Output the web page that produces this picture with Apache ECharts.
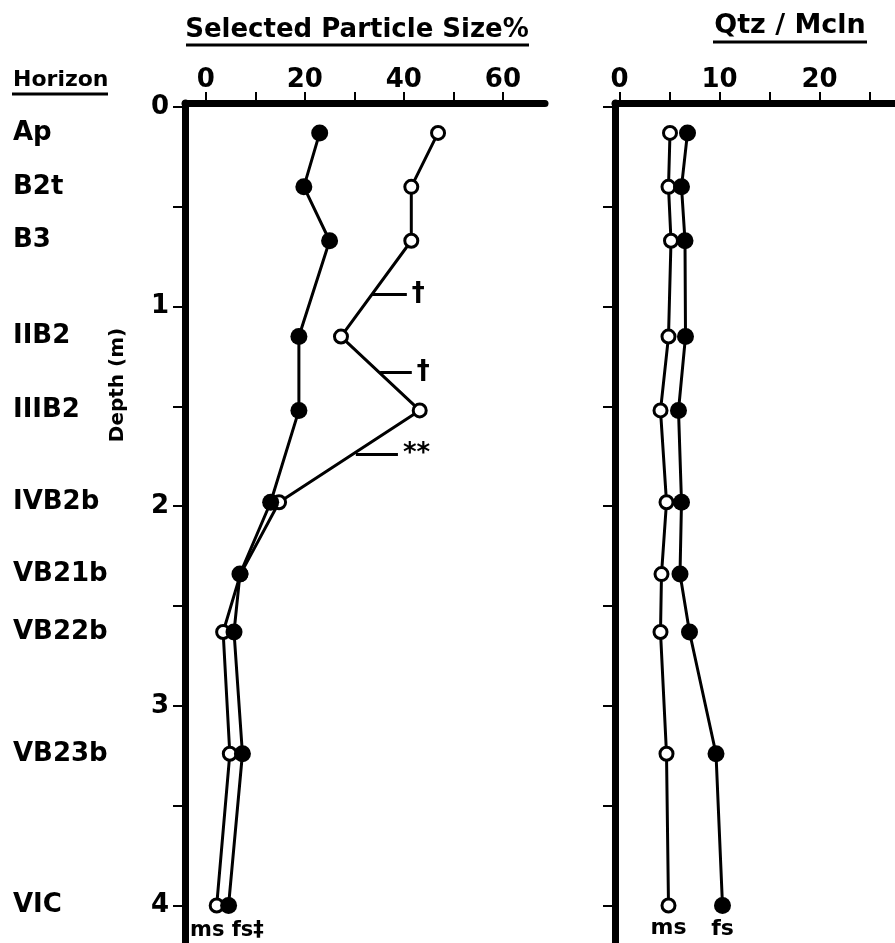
<!DOCTYPE html>
<html><head><meta charset="utf-8">
<script src="https://cdn.jsdelivr.net/npm/echarts@6/dist/echarts.min.js"></script>
<style>html,body{margin:0;padding:0;background:#fff}#c{width:895px;height:943px}</style>
</head><body><div id="c"></div>
<script>
// ---- data ----
const horizons = ['Ap','B2t','B3','IIB2','IIIB2','IVB2b','VB21b','VB22b','VB23b','VIC'];
const depths = [0.13, 0.40, 0.67, 1.15, 1.52, 1.98, 2.34, 2.63, 3.24, 4.00];
const fsPercent = [23.0, 19.8, 25.0, 18.8, 18.8, 13.1, 6.9, 5.7, 7.4, 4.6];
const msPercent = [46.9, 41.5, 41.5, 27.3, 43.2, 14.8, 7.0, 3.5, 4.85, 2.2];
const fsRatio = [6.8, 6.2, 6.55, 6.6, 5.9, 6.2, 6.05, 7.0, 9.65, 10.3];
const msRatio = [5.05, 4.9, 5.15, 4.9, 4.1, 4.7, 4.2, 4.1, 4.7, 4.9];
const pctTicks = [0, 10, 20, 30, 40, 50, 60];
const pctLabels = [0, 20, 40, 60];
const ratioTicks = [0, 5, 10, 15, 20, 25];
const ratioLabels = [0, 10, 20];
const depthTicks = [0, 0.5, 1, 1.5, 2, 2.5, 3, 3.5, 4];
const depthLabels = [0, 1, 2, 3, 4];
const notes = [
  {name: '\u2020', x1: 33.5, x2: 40.6, d: 0.94},
  {name: '\u2020', x1: 35.2, x2: 41.6, d: 1.33},
  {name: '**', x1: 30.3, x2: 38.8, d: 1.74}
];

// ---- chart ----
const F = 'DejaVu Sans';
const txt = {fontFamily: F, fontWeight: 'bold', color: '#000'};
const chart = echarts.init(document.getElementById('c'), null, {renderer: 'canvas'});
const pts = vals => vals.map((v, i) => [v, depths[i]]);
const AL = {show: true, onZero: false, lineStyle: {color: '#000', width: 7}};
const TK = len => ({lineStyle: {color: '#000', width: 2}, length: len});
const yRange = {min: -0.02, max: 4.188};

function lastLabel(vals, text) {
  return vals.map((v, i) => i === vals.length - 1
    ? {value: [v, depths[i]], label: Object.assign({show: true, position: 'bottom', distance: 4, formatter: text, fontSize: 22}, txt)}
    : [v, depths[i]]);
}

const openStyle = {color: '#fff', borderColor: '#000', borderWidth: 3};
const fillStyle = {color: '#000', borderColor: '#000', borderWidth: 0};
const lineSt = {color: '#000', width: 3};

chart.setOption({
  animation: false,
  backgroundColor: '#fff',
  grid: [
    {left: 185, top: 103, width: 360, height: 840, outerBoundsMode: 'none', containLabel: false},
    {left: 615, top: 103, width: 280, height: 840, outerBoundsMode: 'none', containLabel: false}
  ],
  xAxis: [
    {gridIndex: 0, type: 'value', position: 'top', min: -4.2, max: 68.5,
     axisLine: AL, splitLine: {show: false},
     axisTick: Object.assign({show: true, customValues: pctTicks}, TK(11)),
     axisLabel: Object.assign({customValues: pctLabels, margin: 10, fontSize: 26}, txt)},
    {gridIndex: 1, type: 'value', position: 'top', min: -0.45, max: 27.55,
     axisLine: AL, splitLine: {show: false},
     axisTick: Object.assign({show: true, customValues: ratioTicks}, TK(11)),
     axisLabel: Object.assign({customValues: ratioLabels, margin: 10, fontSize: 26}, txt)}
  ],
  yAxis: [
    Object.assign({gridIndex: 0, type: 'value', inverse: true, position: 'left',
     axisLine: AL, splitLine: {show: false},
     axisTick: Object.assign({show: true, customValues: depthTicks}, TK(12)),
     axisLabel: Object.assign({customValues: depthLabels, margin: 16, fontSize: 26}, txt)}, yRange),
    Object.assign({gridIndex: 0, type: 'value', inverse: true, position: 'left',
     axisLine: {show: false}, axisTick: {show: false}, splitLine: {show: false},
     axisLabel: Object.assign({customValues: depths, margin: 172, align: 'left', fontSize: 26,
       formatter: v => horizons[depths.indexOf(v)]}, txt)}, yRange),
    Object.assign({gridIndex: 1, type: 'value', inverse: true, position: 'left',
     axisLine: AL, splitLine: {show: false},
     axisTick: Object.assign({show: true, customValues: depthTicks}, TK(12)),
     axisLabel: {show: false}}, yRange)
  ],
  series: [
    {type: 'line', xAxisIndex: 0, yAxisIndex: 0, data: pts(msPercent), z: 2,
     symbol: 'circle', symbolSize: 13, itemStyle: openStyle, lineStyle: lineSt,
     markLine: {symbol: ['none', 'none'], silent: true, animation: false,
       lineStyle: {color: '#000', width: 3, type: 'solid'},
       label: Object.assign({show: true, position: 'end', distance: 5, fontSize: 26, formatter: p => p.name}, txt),
       emphasis: {disabled: true},
       data: notes.map(n => [{name: n.name, coord: [n.x1, n.d]}, {name: n.name, coord: [n.x2, n.d]}])}},
    {type: 'line', xAxisIndex: 0, yAxisIndex: 0, data: pts(fsPercent), z: 3,
     symbol: 'circle', symbolSize: 17, itemStyle: fillStyle, lineStyle: lineSt},
    {type: 'line', xAxisIndex: 1, yAxisIndex: 2, data: lastLabel(msRatio, 'ms'), z: 2,
     symbol: 'circle', symbolSize: 13, itemStyle: openStyle, lineStyle: lineSt},
    {type: 'line', xAxisIndex: 1, yAxisIndex: 2, data: lastLabel(fsRatio, 'fs'), z: 3,
     symbol: 'circle', symbolSize: 17, itemStyle: fillStyle, lineStyle: lineSt}
  ],
  graphic: [
    {type: 'text', x: 357, y: 30, style: {text: 'Selected Particle Size%', fontSize: 26, align: 'center', verticalAlign: 'middle', fill: '#000', fontFamily: F, fontWeight: 'bold'}},
    {type: 'line', shape: {x1: 186, y1: 45, x2: 529, y2: 45}, style: {stroke: '#000', lineWidth: 3}},
    {type: 'text', x: 790, y: 26, style: {text: 'Qtz / Mcln', fontSize: 27, align: 'center', verticalAlign: 'middle', fill: '#000', fontFamily: F, fontWeight: 'bold'}},
    {type: 'line', shape: {x1: 713, y1: 42, x2: 867, y2: 42}, style: {stroke: '#000', lineWidth: 3}},
    {type: 'text', x: 13, y: 80, style: {text: 'Horizon', fontSize: 22, align: 'left', verticalAlign: 'middle', fill: '#000', fontFamily: F, fontWeight: 'bold'}},
    {type: 'line', shape: {x1: 12, y1: 94, x2: 108, y2: 94}, style: {stroke: '#000', lineWidth: 3}},
    {type: 'text', x: 118, y: 385, rotation: Math.PI / 2, style: {text: 'Depth (m)', fontSize: 20, align: 'center', verticalAlign: 'middle', fill: '#000', fontFamily: F, fontWeight: 'bold'}},
    {type: 'text', x: 190, y: 931, style: {text: 'ms fs\u2021', fontSize: 21, align: 'left', verticalAlign: 'middle', fill: '#000', fontFamily: F, fontWeight: 'bold'}}
  ]
});
</script></body></html>
